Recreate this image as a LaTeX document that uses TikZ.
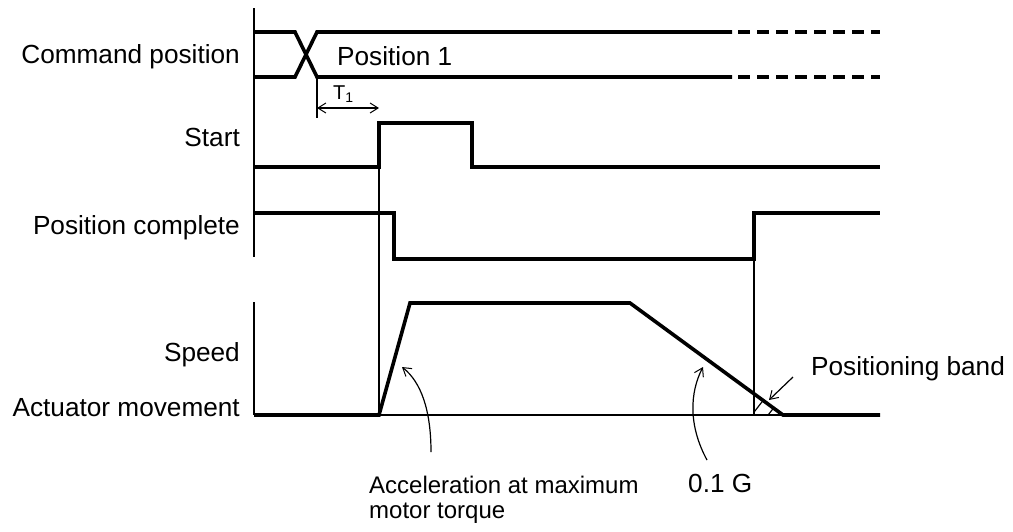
\documentclass[tikz,border=0pt]{standalone}
\usepackage{fontspec}
\setmainfont{Liberation Sans}
\usetikzlibrary{arrows.meta}
\begin{document}
\begin{tikzpicture}[x=1pt,y=-1pt,
  sig/.style={line width=3.6pt,line join=miter},
  thin/.style={line width=1.2pt},
  lbl/.style={font=\fontsize{26.2}{25}\selectfont,inner sep=0pt},
  tip/.style={-{Straight Barb[length=8pt,width=10pt,line width=1pt]}},
  dtip/.style={{Straight Barb[length=8pt,width=10pt,line width=1pt]}-{Straight Barb[length=8pt,width=10pt,line width=1pt]}}]
\useasboundingbox (0,0) rectangle (1013,531);
% axes
\draw[thin] (254,8) -- (254,257);
\draw[thin] (254,302) -- (254,415);
% command position
\coordinate (c1) at (254,32);
\coordinate (c2) at (254,77);
\draw[sig] (c1) -- (295,32) -- (317,77) -- (732,77);
\draw[sig] (c2) -- (295,77) -- (317,32) -- (732,32);
\draw[sig,dash pattern=on 12pt off 7pt] (738,32) -- (880,32);
\draw[sig,dash pattern=on 12pt off 7pt] (738,77) -- (880,77);
% T1
\draw[thin] (317,79) -- (317,118);
\coordinate (t1a) at (317,108);
\coordinate (t1b) at (379,108);
\draw[thin,dtip] (t1a) -- (t1b);
\node[font=\fontsize{20}{20}\selectfont,anchor=base west,inner sep=0pt] (t1) at (333,99) {T\textsubscript{1}};
% start
\draw[sig] (254,167) -- (379,167) -- (379,123) -- (472,123) -- (472,167) -- (880,167);
% position complete
\draw[sig] (254,213) -- (394,213) -- (394,259) -- (754,259) -- (754,213) -- (880,213);
% guide lines
\draw[thin] (379,123) -- (379,415);
\draw[thin] (754,259) -- (754,415);
\draw[thin] (379,415) -- (783,415);
% speed
\draw[sig] (254,415) -- (379,415) -- (410,303) -- (630,303) -- (783,415) -- (880,415);
% hatch
\begin{scope}
\clip (754,394) -- (754,415) -- (783,415) -- cycle;
\draw[thin] (744,425) -- (772,389);
\draw[thin] (758,428) -- (786,392);
\end{scope}
% labels
\node[lbl,anchor=base east] (lcmd) at (240,63) {Command position};
\node[lbl,anchor=base east] (lstart) at (240,146) {Start};
\node[lbl,anchor=base east] (lpc) at (240,234) {Position complete};
\node[lbl,anchor=base east] (lspd) at (240,361) {Speed};
\node[lbl,anchor=base east] (lact) at (240,416) {Actuator movement};
\node[lbl,anchor=base west] (lp1) at (337,65) {Position 1};
\node[lbl,anchor=base west] (lband) at (811,375) {Positioning band};
\node[lbl,anchor=base west] (lg) at (688,492) {0.1 G};
\node[font=\fontsize{24}{25}\selectfont,inner sep=0pt,anchor=base west,align=left] (lacc) at (369,518) {Acceleration at maximum\\motor torque};
% pointers
\coordinate (a1) at (431,452);
\coordinate (a2) at (402,367);
\draw[thin,tip] (a1) .. controls (431,410) and (421,382) .. (a2);
\coordinate (g1) at (707,460);
\coordinate (g2) at (703,367);
\draw[thin,tip] (g1) .. controls (688,425) and (690,392) .. (g2);
\coordinate (b1) at (793,377);
\coordinate (b2) at (769,400);
\draw[thin,tip] (b1) -- (b2);
\end{tikzpicture}
\end{document}
